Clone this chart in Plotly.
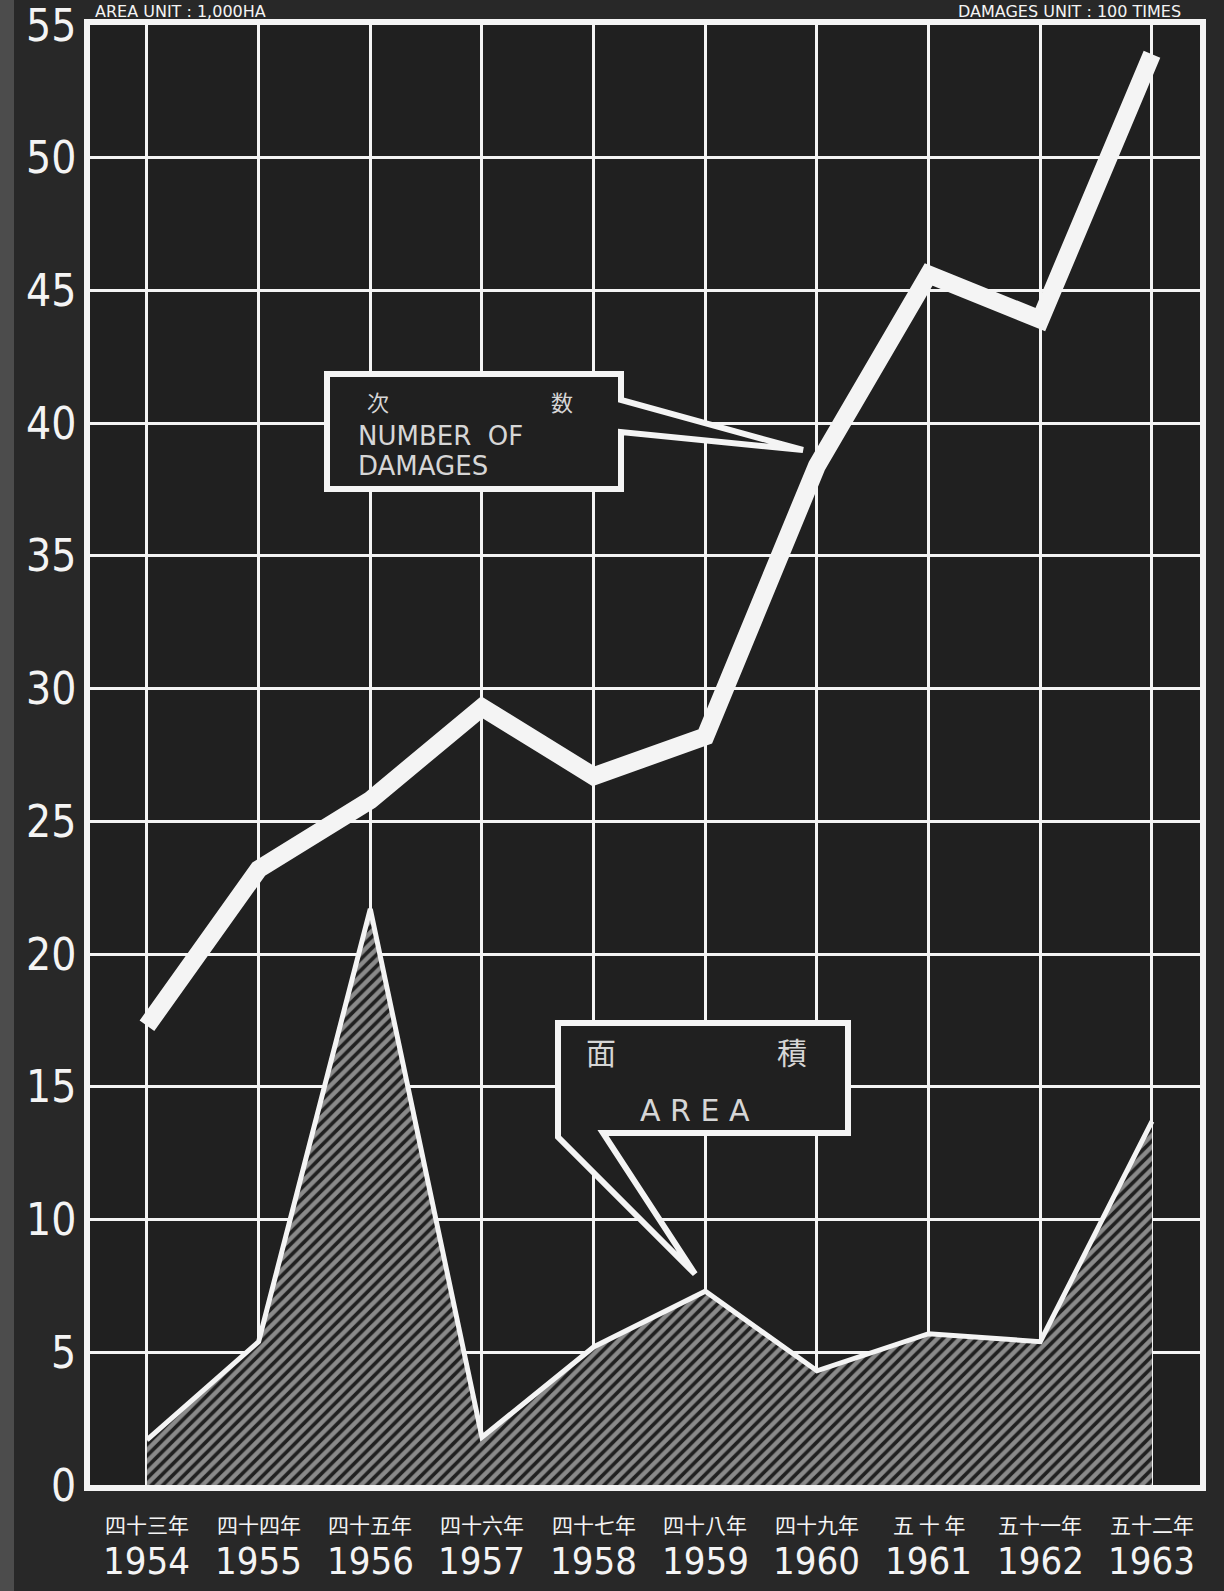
import plotly.graph_objects as go

# ---------------- data ----------------
years = [1954, 1955, 1956, 1957, 1958, 1959, 1960, 1961, 1962, 1963]
roc_labels = ["四十三年", "四十四年", "四十五年", "四十六年", "四十七年",
              "四十八年", "四十九年", "五 十 年", "五十一年", "五十二年"]
year_labels = ["1954", "1955", "1956", "1957", "1958",
               "1959", "1960", "1961", "1962", "1963"]
damages = [17.3, 23.2, 25.8, 29.3, 26.7, 28.2, 38.4, 45.6, 43.9, 53.9]   # unit: 100 times
area = [1.7, 5.4, 21.7, 1.8, 5.2, 7.3, 4.3, 5.7, 5.4, 13.7]             # unit: 1,000 ha
y_ticks = [0, 5, 10, 15, 20, 25, 30, 35, 40, 45, 50, 55]
y_tick_labels = [str(v) for v in y_ticks]

# ---------------- layout geometry ----------------
W, H = 1224, 1591
L, R, T, B = 90, 1200, 25, 1485
X0, X1 = 1953.49, 1963.43
Y0, Y1 = 0, 55

def dx(p):
    return X0 + (p - L) / (R - L) * (X1 - X0)

def dy(p):
    return Y0 + (B - p) / (B - T) * (Y1 - Y0)

def pp(p):
    return (B - p) / (B - T)

BG = "#282828"
PLOT_BG = "#202020"
WHITE = "#f4f4f4"
TXT = "#d6d6d6"

fig = go.Figure()

fig.add_trace(go.Scatter(
    x=years, y=area, mode="lines", fill="tozeroy",
    line=dict(color=WHITE, width=5),
    fillpattern=dict(shape="/", fgcolor=WHITE, bgcolor=PLOT_BG, size=8, solidity=0.55),
    fillcolor=PLOT_BG,
    hoverinfo="skip", showlegend=False,
))

fig.add_trace(go.Scatter(
    x=years, y=damages, mode="lines",
    line=dict(color=WHITE, width=18),
    hoverinfo="skip", showlegend=False,
))

# ---------------- callouts ----------------
def path(points):
    s = "M {} {}".format(dx(points[0][0]), dy(points[0][1]))
    for (a, b) in points[1:]:
        s += " L {} {}".format(dx(a), dy(b))
    return s + " Z"

shapes = []
shapes.append(dict(
    type="path", xref="x", yref="y", layer="above",
    path=path([(327, 374), (621, 374), (621, 400), (803, 450), (621, 432),
               (621, 489), (327, 489)]),
    line=dict(color=WHITE, width=6), fillcolor=PLOT_BG,
))
shapes.append(dict(
    type="path", xref="x", yref="y", layer="above",
    path=path([(558, 1023), (848, 1023), (848, 1133), (603, 1133), (695, 1274),
               (558, 1137)]),
    line=dict(color=WHITE, width=6), fillcolor=PLOT_BG,
))
shapes.append(dict(
    type="rect", xref="paper", yref="paper",
    x0=-L / (R - L), x1=-(L - 14) / (R - L), y0=pp(H), y1=pp(0),
    line=dict(width=0), fillcolor="#4c4c4c", layer="below",
))

annotations = []
CJK = "Noto Sans CJK JP, Noto Sans CJK TC, sans-serif"
SANS = "DejaVu Sans, Liberation Sans, sans-serif"

def ann(text, px, py, size, family, color=TXT, xanchor="center"):
    annotations.append(dict(
        text=text, x=dx(px), y=dy(py), xref="x", yref="y",
        xanchor=xanchor, yanchor="middle", showarrow=False,
        font=dict(size=size, family=family, color=color),
    ))

ann("次", 378, 401, 22, CJK)
ann("数", 562, 401, 22, CJK)
ann("NUMBER  OF", 356, 436, 26, SANS, xanchor="left")
ann("DAMAGES", 356, 466, 26, SANS, xanchor="left")

ann("面", 601, 1051, 30, CJK)
ann("積", 792, 1051, 30, CJK)
ann("A R E A", 695, 1110, 30, SANS)

# y-axis tick labels
for v, lab in zip(y_ticks, y_tick_labels):
    annotations.append(dict(
        text=lab, x=(78 - L) / (R - L), y=v, xref="paper", yref="y",
        xanchor="right", yanchor="middle", showarrow=False,
        font=dict(size=44, family="DejaVu Sans Condensed, DejaVu Sans, sans-serif", color=WHITE),
    ))

# x-axis labels (two rows)
for yr, roc, lab in zip(years, roc_labels, year_labels):
    annotations.append(dict(
        text=roc, x=yr, y=pp(1524), xref="x", yref="paper",
        xanchor="center", yanchor="middle", showarrow=False,
        font=dict(size=21, family="Noto Sans CJK TC, Noto Sans CJK JP, sans-serif", color=WHITE),
    ))
    annotations.append(dict(
        text=lab, x=yr, y=pp(1561), xref="x", yref="paper",
        xanchor="center", yanchor="middle", showarrow=False,
        font=dict(size=38, family="Liberation Sans Narrow, DejaVu Sans Condensed, Liberation Sans, sans-serif",
                  color=WHITE),
    ))

annotations.append(dict(
    text="AREA UNIT : 1,000HA", x=(93 - L) / (R - L), y=pp(11),
    xref="paper", yref="paper", xanchor="left", yanchor="middle", showarrow=False,
    font=dict(size=16, family=SANS, color=WHITE),
))
annotations.append(dict(
    text="DAMAGES UNIT : 100 TIMES", x=(1183 - L) / (R - L), y=pp(11),
    xref="paper", yref="paper", xanchor="right", yanchor="middle", showarrow=False,
    font=dict(size=16, family=SANS, color=WHITE),
))

fig.update_layout(
    width=W, height=H,
    margin=dict(l=L, r=W - R, t=T, b=H - B, pad=0),
    paper_bgcolor=BG, plot_bgcolor=PLOT_BG,
    shapes=shapes, annotations=annotations,
    showlegend=False,
)

fig.update_xaxes(
    range=[X0, X1], tickvals=years, showticklabels=False, ticks="",
    showgrid=True, gridcolor=WHITE, gridwidth=3,
    showline=True, linecolor=WHITE, linewidth=6, mirror=True,
    zeroline=False, fixedrange=True,
)
fig.update_yaxes(
    range=[Y0, Y1], tickvals=y_ticks, showticklabels=False, ticks="",
    showgrid=True, gridcolor=WHITE, gridwidth=3,
    showline=True, linecolor=WHITE, linewidth=6, mirror=True,
    zeroline=False, fixedrange=True,
)

fig.write_html("out.html", config={"displayModeBar": False, "staticPlot": True},
               post_script="document.body.style.margin='0';document.body.style.overflow='hidden';")
